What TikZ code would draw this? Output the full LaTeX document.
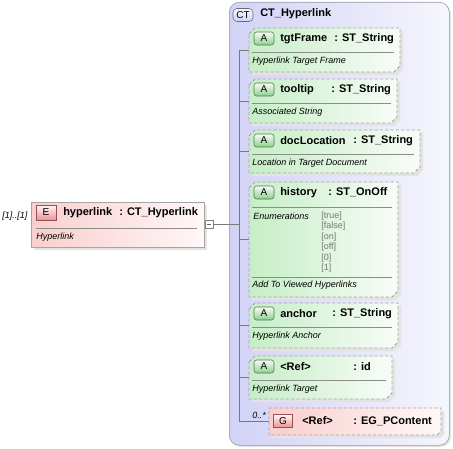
\documentclass[tikz,border=0pt]{standalone}
\usepackage{fontspec}
\setmainfont{Liberation Sans}
\usetikzlibrary{calc}
\definecolor{ctBlue}{RGB}{210,210,246}
\definecolor{ctLight}{RGB}{246,246,253}
\definecolor{ctEdge}{RGB}{150,150,172}
\definecolor{atGreen}{RGB}{198,238,198}
\definecolor{atLight}{RGB}{248,252,248}
\definecolor{atBadge}{RGB}{140,208,140}
\definecolor{atBadgeEdge}{RGB}{80,115,80}
\definecolor{elPink}{RGB}{250,206,206}
\definecolor{elLight}{RGB}{255,247,247}
\definecolor{elBadge}{RGB}{236,146,146}
\definecolor{elBadgeEdge}{RGB}{150,80,80}
\definecolor{boxEdge}{RGB}{165,165,165}
\definecolor{treeGray}{RGB}{120,120,120}
\definecolor{enumGray}{RGB}{120,120,120}

\begin{document}
\begin{tikzpicture}[x=0.75pt,y=-0.75pt,
  title/.style={font=\fontsize{8.25}{10}\selectfont\bfseries,inner sep=0,anchor=west},
  desc/.style={font=\fontsize{6.75}{8}\selectfont\itshape,inner sep=0,anchor=west},
  enum/.style={font=\fontsize{6.75}{8}\selectfont,text=enumGray,inner sep=0,anchor=west},
  badge/.style={draw,minimum width=15pt,minimum height=9.75pt,inner sep=0,
    font=\fontsize{7.5}{9}\selectfont},
  abadge/.style={badge,draw=atBadgeEdge,top color=atLight,bottom color=atBadge,rounded corners=2pt},
  ebadge/.style={badge,draw=elBadgeEdge,top color=elLight,bottom color=elBadge},
  hold/.style={inner sep=0,anchor=north west},
  boxshadow/.style={fill=black!11},
  tree/.style={treeGray,line width=0.5pt},
  sepline/.style={draw=black!45,line width=0.5pt},
  dashbox/.style={draw=boxEdge,dash pattern=on 2.5pt off 1.5pt,line width=0.6pt}]
  \useasboundingbox (0,0) rectangle (453,449);

  % complex type
  \fill[boxshadow,rounded corners=7.5pt] (231,4) rectangle (451,447);
  \node[hold,draw=ctEdge,left color=ctBlue,right color=ctLight,rounded corners=7.5pt,
    minimum width=165pt,minimum height=332.25pt] (ct) at (229,2) {};
  \node[badge,draw=ctEdge!70!black,top color=ctLight,bottom color=ctBlue,rounded corners=3pt]
    (ct-b) at (243,15) {CT};
  \node[title] (ct-n) at (260,14) {CT\_Hyperlink};
  \coordinate (trunk) at (239,0);

  % attributes
  \foreach \nd/\tp/\bt/\rt/\nm/\ty/\cx/\ds in {
      tgt/28/72/400/tgtFrame/ST\_String/334/Hyperlink Target Frame,
      tip/79/123/397/tooltip/ST\_String/331/Associated String,
      doc/130/173/420/docLocation/ST\_String/353/Location in Target Document,
      anc/303/348/398/anchor/ST\_String/332/Hyperlink Anchor,
      ref/356/399/392/<Ref>/id/353/Hyperlink Target}{
    \fill[boxshadow] (252,\tp+9) -- (258,\tp+3) -- (\rt+3,\tp+3) -- (\rt+3,\bt-3)
      -- (\rt-3,\bt+3) -- (252,\bt+3) -- cycle;
    \path[dashbox,left color=atGreen,right color=atLight] (249,\tp+6) -- (255,\tp) -- (\rt,\tp)
      -- (\rt,\bt-6) -- (\rt-6,\bt) -- (249,\bt) -- cycle;
    \node[hold,minimum width={(\rt-249)*0.75pt},minimum height={(\bt-\tp)*0.75pt}] (\nd) at (249,\tp) {};
    \node[abadge] (\nd-a) at (264,\tp+10.5) {A};
    \node[title] (\nd-n) at (280,\tp+10.5) {\nm};
    \node[title] (\nd-t) at (\cx,\tp+10.5) {: \ty};
    \draw[sepline] (252,\tp+24.5) -- (\rt-6,\tp+24.5);
    \node[desc] (\nd-d) at (252,\tp+33) {\ds};
    \draw[tree] (\nd.west -| trunk) -- (\nd.west);
  }

  % attribute with enumerations
  \fill[boxshadow] (252,191) -- (258,185) -- (401,185) -- (401,294) -- (395,300) -- (252,300) -- cycle;
  \path[dashbox,left color=atGreen,right color=atLight] (249,188) -- (255,182) -- (398,182)
    -- (398,291) -- (392,297) -- (249,297) -- cycle;
  \node[hold,minimum width=111.75pt,minimum height=86.25pt] (his) at (249,182) {};
  \node[abadge] (his-a) at (264,192.5) {A};
  \node[title] (his-n) at (280,192.5) {history};
  \node[title] (his-t) at (328,192.5) {: ST\_OnOff};
  \draw[sepline] (252,207) -- (392,207);
  \node[desc,font=\fontsize{6.75}{8}\selectfont\itshape] (his-e) at (253,216) {Enumerations};
  \foreach \v [count=\i from 0] in {true,false,on,off,0,1}
    \node[enum] (his-v\i) at (321,216+10.5*\i) {[\v]};
  \draw[sepline] (252,277) -- (392,277);
  \node[desc] (his-d) at (252,285) {Add To Viewed Hyperlinks};
  \draw[tree] (his.west -| trunk) -- (his.west);

  % group reference
  \fill[boxshadow] (272,411) -- (444,411) -- (444,434) -- (440,438) -- (272,438) -- cycle;
  \path[dashbox,left color=elPink,right color=elLight] (269,408) -- (441,408) -- (441,431)
    -- (437,435) -- (269,435) -- cycle;
  \node[hold,minimum width=129pt,minimum height=20.25pt] (grp) at (269,408) {};
  \node[ebadge,minimum width=14.25pt] (grp-g) at (283,421) {G};
  \node[title] (grp-n) at (302,421) {<Ref>};
  \node[title] (grp-t) at (353,421) {: EG\_PContent};
  \node[desc] (grp-o) at (252,415) {0..*};
  \draw[tree] (grp.west -| trunk) -- (grp.west);
  \draw[tree] (tgt.west -| trunk) -- (grp.west -| trunk);

  % element
  \fill[boxshadow] (34,205) rectangle (207,250);
  \node[hold,draw=boxEdge,left color=elPink,right color=elLight,
    minimum width=129.75pt,minimum height=33.75pt] (hl) at (31,202) {};
  \node[ebadge,minimum height=11.25pt] (hl-e) at (46,212.5) {E};
  \node[title] (hl-n) at (63,213) {hyperlink};
  \node[title] (hl-t) at (119,213) {: CT\_Hyperlink};
  \draw[sepline] (36,228) -- (197,228);
  \node[desc] (hl-d) at (36,237) {Hyperlink};
  \node[desc] (hl-o) at (2,216) {[1]..[1]};
  \node[draw=black!50,fill=white,minimum size=6pt,inner sep=0] (pm) at (209,224) {};
  \draw[black!60] ([xshift=-1.6pt]pm.center) -- ([xshift=1.6pt]pm.center);
  \draw[tree] (pm.east) -- (pm.east -| trunk);
\end{tikzpicture}
\end{document}
